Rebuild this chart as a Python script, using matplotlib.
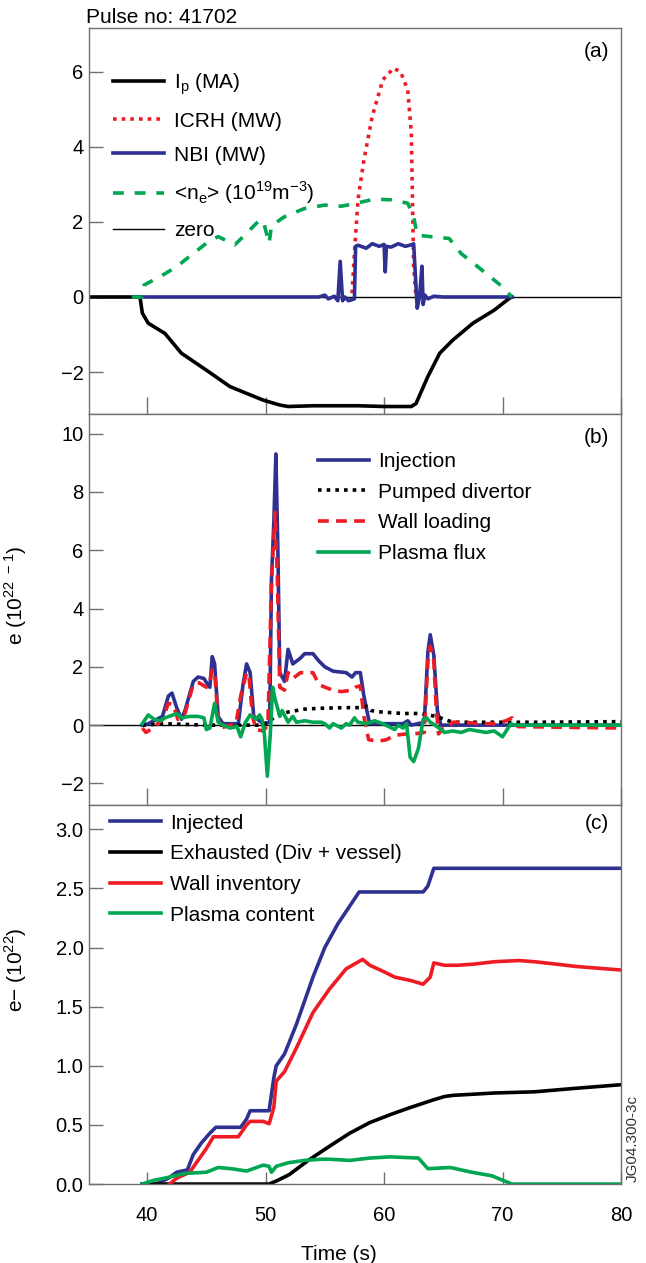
import matplotlib
matplotlib.use("Agg")
import matplotlib.pyplot as plt

plt.rcParams['font.family'] = ['Liberation Sans', 'DejaVu Sans']
plt.rcParams['mathtext.fontset'] = 'custom'
plt.rcParams['mathtext.rm'] = 'Liberation Sans'

BLUE = '#2e3192'
RED = '#ed1c24'
GREEN = '#00a651'
AXC = '#707070'

# ---- panel (a): plasma current, heating, density ----
ip_t = [35.1, 39.4, 39.6, 40.1, 41.5, 42.9, 45.0, 47.0, 49.8, 51.2, 51.9, 54.0, 57.8,
        60.0, 62.3, 62.7, 63.7, 64.7, 65.8, 67.5, 69.3, 70.6, 70.8]
ip_v = [0, 0, -0.43, -0.7, -0.97, -1.5, -1.95, -2.39, -2.75, -2.88, -2.92, -2.9, -2.9,
        -2.92, -2.92, -2.84, -2.12, -1.5, -1.15, -0.7, -0.35, -0.03, 0]

icrh_t = [57.3, 57.5, 57.8, 58.3, 59.0, 59.9, 60.8, 61.4, 62.0, 62.3, 62.4, 62.5, 62.7]
icrh_v = [0.1, 1.17, 2.59, 3.65, 4.81, 5.79, 6.1, 6.0, 5.52, 4.37, 2.6, 0.8, 0]

nbi_t = [39.2, 54.5, 55.0, 55.3, 55.8, 56.1, 56.3, 56.5, 56.7, 57.0, 57.5, 57.6, 57.8,
         58.5, 59.0, 59.6, 60.0, 60.1, 60.2, 60.6, 61.2, 61.8, 62.4, 62.5, 62.8, 63.0,
         63.2, 63.3, 63.45, 63.7, 64.2, 65.0, 70.8]
nbi_v = [0, 0, 0.05, -0.05, 0.02, -0.1, 0.95, -0.1, 0.0, -0.1, -0.05, 1.35, 1.38,
         1.3, 1.42, 1.35, 1.4, 0.67, 1.35, 1.33, 1.42, 1.35, 1.4, 1.42, -0.3, 0.02,
         0.82, -0.2, 0.05, -0.05, 0.02, 0.0, 0]

ne_t = [38.7, 39.6, 39.75, 41.1, 42.5, 43.9, 45.0, 46.0, 47.4, 48.4, 49.5, 49.8, 50.3,
        50.5, 51.6, 53.3, 55.0, 56.4, 57.8, 59.2, 60.6, 62.0, 62.5, 62.8, 63.9, 65.5,
        66.5, 67.9, 69.3, 70.0, 70.8]
ne_v = [0, 0, 0.32, 0.54, 0.81, 1.16, 1.43, 1.61, 1.39, 1.7, 2.05, 2.03, 1.43,
        1.9, 2.14, 2.36, 2.45, 2.42, 2.51, 2.61, 2.59, 2.5, 2.14, 1.65, 1.61, 1.56,
        1.16, 0.81, 0.45, 0.27, 0]

# ---- panel (b): particle fluxes ----
inj_t = [39.6, 40.1, 41.3, 41.8, 42.1, 42.5, 42.9, 43.2, 43.9, 44.3, 44.8, 45.1, 45.3,
         45.5, 45.7, 46.0, 46.4, 47.7, 48.1, 48.4, 48.7, 49.0, 49.8, 50.35, 50.5, 50.7,
         50.87, 51.04, 51.2, 51.6, 51.9, 52.3, 52.95, 53.3, 54.0, 54.5, 55.0, 55.7,
         56.8, 57.3, 57.6, 58.0, 58.3, 58.7, 58.85, 61.6, 62.0, 62.3, 63.4, 63.7,
         63.9, 64.2, 64.5, 64.8, 80.0]
inj_v = [0, 0.05, 0.3, 1.0, 1.1, 0.6, 0.2, 0.5, 1.5, 1.65, 1.6, 1.4, 1.3,
         2.35, 2.1, 0.3, 0.05, 0.05, 1.4, 2.1, 1.8, 0.3, 0.05, 0.1, 5.0, 7.0,
         9.3, 6.0, 1.8, 1.5, 2.6, 2.1, 2.3, 2.45, 2.45, 2.2, 2.0, 1.85,
         1.8, 1.65, 1.8, 1.8, 1.0, 0.2, 0.05, 0.05, 0.15, 0.0, 0.1, 2.5,
         3.1, 2.4, 0.5, 0.0, 0.0]

div_t = [39.6, 41.5, 45.0, 49.8, 50.5, 51.2, 51.9, 53.3, 54.7, 56.8, 58.2, 58.5, 58.9,
         59.8, 61.6, 63.0, 63.7, 64.4, 65.1, 65.8, 69.2, 72.7, 80.0]
div_v = [0, 0.05, 0.0, 0.0, 0.2, 0.35, 0.45, 0.55, 0.58, 0.6, 0.6, 0.65, 0.5,
         0.45, 0.4, 0.4, 0.35, 0.3, 0.2, 0.1, 0.1, 0.1, 0.12]

wall_t = [39.6, 39.9, 40.5, 41.3, 41.8, 42.2, 42.6, 43.2, 43.9, 44.4, 45.0, 45.3, 45.5,
          45.7, 46.0, 46.2, 47.0, 47.5, 47.9, 48.4, 48.6, 48.9, 49.2, 49.8, 50.2, 50.5,
          50.8, 51.0, 51.2, 51.6, 51.9, 52.3, 52.95, 54.0, 54.5, 55.0, 55.7, 56.4,
          57.3, 57.6, 58.0, 58.3, 58.7, 59.5, 60.2, 60.9, 61.9, 62.6, 63.4, 63.7,
          63.9, 64.2, 64.4, 64.6, 65.0, 65.5, 65.8, 66.9, 67.9, 69.3, 70.3, 70.8, 71.0,
          71.3, 80.0]
wall_v = [-0.1, -0.25, -0.1, 0.2, 0.75, 0.7, 0.2, 0.4, 1.4, 1.45, 1.3, 1.5, 1.9,
          1.8, 0.2, -0.1, 0.0, 0.05, 1.0, 1.8, 1.7, 0.3, -0.15, -0.2, 0.0, 4.9,
          7.3, 5.0, 1.3, 1.2, 1.8, 1.6, 1.8, 1.8, 1.4, 1.3, 1.2, 1.15,
          1.2, 1.3, 1.35, 0.3, -0.5, -0.55, -0.5, -0.35, -0.3, -0.3, -0.25, 2.2,
          2.7, 2.2, 0.6, -0.3, -0.1, -0.05, 0.1, 0.1, 0.05, 0.05, 0.15, 0.25, 0.1,
          -0.05, -0.1]

pf_t = [39.6, 40.1, 40.6, 41.1, 41.5, 42.2, 42.5, 42.9, 43.6, 44.3, 44.8, 45.0, 45.3,
        45.7, 46.0, 46.4, 47.0, 47.6, 47.9, 48.3, 48.7, 49.2, 49.5, 49.7, 49.9, 50.15,
        50.4, 50.6, 50.8, 51.2, 51.4, 51.9, 52.3, 52.6, 53.3, 54.0, 54.7, 55.0, 55.4,
        55.7, 56.4, 56.8, 57.1, 57.5, 57.8, 58.5, 59.2, 59.9, 60.4, 60.9, 61.2, 61.6,
        61.9, 62.2, 62.5, 62.9, 63.3, 63.6, 63.9, 64.3, 64.8, 65.1, 65.8, 66.5, 67.2,
        67.9, 68.6, 69.3, 70.0, 70.7, 71.0, 71.2, 72.7, 80.0]
pf_v = [0.05, 0.35, 0.2, 0.15, 0.25, 0.35, 0.4, 0.25, 0.3, 0.3, 0.25, -0.15, -0.1,
        0.75, 0.1, 0.0, -0.1, -0.05, -0.4, 0.1, 0.35, 0.2, 0.35, 0.2, -0.3, -1.75,
        -0.3, 1.3, 0.9, 0.3, 0.5, 0.1, 0.3, 0.1, 0.15, 0.1, 0.1, 0.05, -0.1,
        0.05, -0.1, 0.05, 0.0, 0.25, 0.1, 0.05, 0.15, 0.05, -0.05, -0.15, 0.0, -0.1,
        0.05, -1.1, -1.25, -0.8, 0.2, 0.25, 0.1, 0.0, -0.15, -0.25, -0.2, -0.25, -0.15,
        -0.2, -0.25, -0.2, -0.4, 0.05, 0.0, 0.0, 0.0, 0.0]

# ---- panel (c): particle inventories ----
injd_t = [39.6, 40.8, 41.8, 42.5, 43.4, 43.9, 44.6, 45.3, 45.8, 47.9, 48.4, 48.7, 50.3,
          50.7, 50.9, 51.6, 52.6, 54.0, 55.0, 56.1, 57.1, 57.9, 63.3, 63.7, 64.2, 80.0]
injd_v = [0, 0.0, 0.05, 0.1, 0.12, 0.25, 0.35, 0.43, 0.48, 0.48, 0.55, 0.62, 0.62,
          0.9, 1.0, 1.1, 1.35, 1.75, 2.0, 2.2, 2.35, 2.47, 2.47, 2.52, 2.67, 2.67]

exh_t = [39.6, 50.3, 51.0, 52.0, 53.6, 55.4, 57.1, 58.8, 60.6, 62.3, 64.1, 65.1, 65.8,
         69.3, 72.7, 76.2, 80.0]
exh_v = [0, 0, 0.03, 0.08, 0.2, 0.32, 0.43, 0.52, 0.59, 0.65, 0.71, 0.74, 0.75,
         0.77, 0.78, 0.81, 0.84]

wallinv_t = [41.9, 42.5, 43.6, 44.3, 45.0, 45.6, 47.7, 48.4, 48.7, 49.8, 50.3, 50.7,
             50.9, 51.6, 52.6, 54.0, 55.4, 56.8, 58.2, 58.8, 59.9, 60.9, 62.3, 63.3,
             63.9, 64.2, 65.1, 66.2, 67.6, 69.3, 71.4, 72.7, 74.5, 76.2, 80.0]
wallinv_v = [0, 0.05, 0.1, 0.2, 0.3, 0.4, 0.4, 0.5, 0.53, 0.53, 0.51, 0.65,
             0.87, 0.95, 1.15, 1.45, 1.65, 1.82, 1.9, 1.85, 1.8, 1.75, 1.72, 1.69,
             1.75, 1.87, 1.85, 1.85, 1.86, 1.88, 1.89, 1.88, 1.86, 1.84, 1.81]

plc_t = [39.6, 40.5, 41.5, 43.2, 45.0, 46.0, 47.1, 48.4, 49.8, 50.3, 50.5, 50.9, 51.9,
         53.3, 54.7, 55.4, 57.1, 58.8, 60.5, 62.9, 63.7, 65.6, 67.4, 69.1, 70.8, 80.0]
plc_v = [0.0, 0.03, 0.05, 0.09, 0.1, 0.14, 0.13, 0.11, 0.16, 0.15, 0.1, 0.15, 0.18,
         0.2, 0.21, 0.21, 0.2, 0.22, 0.23, 0.22, 0.13, 0.14, 0.1, 0.07, 0.0, 0.0]

fig = plt.figure(figsize=(6.46, 12.63), dpi=100)
L, W = 0.1378, 0.8235
ax_a = fig.add_axes([L, 0.6722, W, 0.3056])
ax_b = fig.add_axes([L, 0.3626, W, 0.3096])
ax_c = fig.add_axes([L, 0.0625, W, 0.3001])

LW = 2.6
FS = 15

# (a)
ax_a.axhline(0, color='black', lw=1.0, zorder=1)
ax_a.plot(ip_t, ip_v, color='black', lw=LW, label=r'I$_\mathregular{p}$ (MA)')
ax_a.plot(icrh_t, icrh_v, color=RED, lw=LW, ls=(0, (1, 1.4)), label='ICRH (MW)')
ax_a.plot(nbi_t, nbi_v, color=BLUE, lw=LW, label='NBI (MW)')
ax_a.plot(ne_t, ne_v, color=GREEN, lw=LW, ls=(0, (3, 3)),
          label=r'<n$_\mathregular{e}$> (10$^\mathregular{19}$m$^\mathregular{-3}$)')
ax_a.plot([], [], color='black', lw=1.0, label='zero')
ax_a.set_ylim(-3.12, 7.17)
ax_a.set_yticks([-2, 0, 2, 4, 6])
ax_a.set_yticklabels(['\u22122', '0', '2', '4', '6'])
ax_a.legend(loc='upper left', bbox_to_anchor=(0.045, 0.889), frameon=False,
            fontsize=FS, handlelength=2.45, handletextpad=0.5, labelspacing=0.72,
            borderaxespad=0, borderpad=0)
ax_a.text(0.977, 0.938, '(a)', transform=ax_a.transAxes, ha='right', va='center', fontsize=FS)

# (b)
ax_b.axhline(0, color='black', lw=1.0, zorder=1)
ax_b.plot(inj_t, inj_v, color=BLUE, lw=LW, label='Injection')
ax_b.plot(div_t, div_v, color='black', lw=LW, ls=(0, (1, 1.4)), label='Pumped divertor')
ax_b.plot(wall_t, wall_v, color=RED, lw=LW, ls=(0, (3, 2)), label='Wall loading')
ax_b.plot(pf_t, pf_v, color=GREEN, lw=LW, label='Plasma flux')
ax_b.set_ylim(-2.74, 10.67)
ax_b.set_yticks([-2, 0, 2, 4, 6, 8, 10])
ax_b.set_yticklabels(['\u22122', '0', '2', '4', '6', '8', '10'])
ax_b.set_ylabel(r'e (10$^\mathregular{22\ -1}$)', fontsize=FS)
ax_b.yaxis.set_label_coords(-0.113, 0.537)
ax_b.legend(loc='upper left', bbox_to_anchor=(0.43, 0.903), frameon=False,
            fontsize=FS, handlelength=2.45, handletextpad=0.45, labelspacing=0.56,
            borderaxespad=0, borderpad=0)
ax_b.text(0.977, 0.941, '(b)', transform=ax_b.transAxes, ha='right', va='center', fontsize=FS)

# (c)
ax_c.plot(injd_t, injd_v, color=BLUE, lw=LW, label='Injected')
ax_c.plot(exh_t, exh_v, color='black', lw=LW, label='Exhausted (Div + vessel)')
ax_c.plot(wallinv_t, wallinv_v, color=RED, lw=LW, label='Wall inventory')
ax_c.plot(plc_t, plc_v, color=GREEN, lw=LW, label='Plasma content')
ax_c.set_ylim(0, 3.205)
ax_c.set_yticks([0, 0.5, 1.0, 1.5, 2.0, 2.5, 3.0])
ax_c.set_yticklabels(['0.0', '0.5', '1.0', '1.5', '2.0', '2.5', '3.0'])
ax_c.set_ylabel('e\u2212 (10$^\\mathregular{22}$)', fontsize=FS)
ax_c.yaxis.set_label_coords(-0.113, 0.565)
ax_c.legend(loc='upper left', bbox_to_anchor=(0.04, 0.977), frameon=False,
            fontsize=FS, handlelength=2.45, handletextpad=0.4, labelspacing=0.56,
            borderaxespad=0, borderpad=0)
ax_c.text(0.977, 0.952, '(c)', transform=ax_c.transAxes, ha='right', va='center', fontsize=FS)
ax_c.set_xlabel('Time (s)', fontsize=FS)
ax_c.xaxis.set_label_coords(0.47, -0.16)

for ax in (ax_a, ax_b, ax_c):
    ax.set_xlim(35.1, 80)
    ax.set_xticks([40, 50, 60, 70, 80])
    for s in ax.spines.values():
        s.set_color(AXC)
        s.set_linewidth(1.0)
    ax.tick_params(axis='y', direction='in', length=10, width=1, color=AXC,
                   labelsize=14.5, pad=4)
    ax.tick_params(axis='x', direction='in', length=12, width=1, color=AXC,
                   labelsize=14.5, pad=16)
ax_a.tick_params(axis='x', labelbottom=False)
ax_b.tick_params(axis='x', labelbottom=False)
ax_c.tick_params(axis='x', length=9)

fig.text(0.133, 0.9865, 'Pulse no: 41702', fontsize=FS, ha='left', va='center')
fig.text(0.98, 0.099, 'JG04.300-3c', fontsize=11, rotation=90, ha='center', va='center',
         color='#333333')

fig.savefig('out.png', dpi=100)
